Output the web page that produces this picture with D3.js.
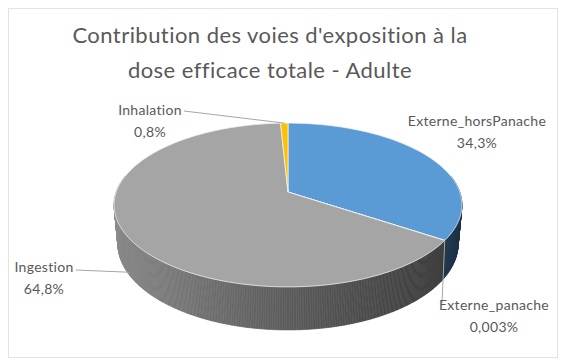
<!DOCTYPE html>
<html>
<head>
<meta charset="utf-8">
<script src="https://cdn.jsdelivr.net/npm/d3@7"></script>
<style>
  html, body { margin: 0; padding: 0; background: #ffffff; }
  svg { display: block; }
  text { font-family: Lato, "Open Sans", sans-serif; fill: #595959; }
</style>
</head>
<body>
<svg id="chart" width="562" height="363"></svg>
<script>
// Contribution of each exposure pathway to the total effective dose (adult)
const categories = ["Externe_horsPanache", "Externe_panache", "Ingestion", "Inhalation"];
const values = [34.3, 0.003, 64.8, 0.8];
const valueLabels = ["34,3%", "0,003%", "64,8%", "0,8%"];
const colors = ["#5B9BD5", "#ED7D31", "#A5A5A5", "#FFC000"];
const titleLines = ["Contribution des voies d'exposition à la", "dose efficace totale - Adulte"];

const W = 562, H = 363;
const svg = d3.select("#chart");

// chart frame
svg.append("rect")
  .attr("x", 8.5).attr("y", 8.5)
  .attr("width", 549).attr("height", 349)
  .attr("fill", "#ffffff")
  .attr("stroke", "#e3e3e3");

// title
svg.append("g").selectAll("text")
  .data(titleLines)
  .join("text")
  .attr("x", 270)
  .attr("y", (d, i) => 43 + i * 35)
  .attr("text-anchor", "middle")
  .style("font-size", "22px")
  .style("letter-spacing", "0.45px")
  .text(d => d);

// 3D pie projection: unit disc lying flat, viewed from above with perspective
const cx = 288, cy = 192;
const focal = 958, dist = 5.58;
const sinA = 0.465, cosA = Math.sqrt(1 - sinA * sinA);
const thick = 0.258;

function proj(angle, t = 0, r = 1) {
  const X = r * Math.sin(angle);
  const Z = -r * Math.cos(angle);
  const Y = -thick * t;
  const depth = dist - (Y * sinA + Z * cosA);
  return [cx + focal * X / depth, cy - focal * (Y * cosA - Z * sinA) / depth];
}

const pie = d3.pie().sort(null).value(d => d.value);
const arcs = pie(categories.map((c, i) => ({ name: c, value: values[i], color: colors[i], label: valueLabels[i] })));

const line = d3.line();

// side walls, shaded by facing direction (light from the left)
const walls = svg.append("g");
arcs.forEach(a => {
  const base = d3.rgb(a.data.color);
  const span = a.endAngle - a.startAngle;
  const n = Math.max(1, Math.ceil(span / (Math.PI / 360)));
  for (let k = 0; k < n; k++) {
    const t0 = a.startAngle + span * k / n;
    const t1 = a.startAngle + span * (k + 1) / n;
    const mid = (t0 + t1) / 2;
    if (Math.cos(mid) > 0.2) continue; // back part, hidden by the top face
    const u = (1 - Math.sin(mid)) / 2;
    const f = 0.33 + 0.52 * Math.pow(u, 1.2);
    const c = d3.rgb(base.r * f, base.g * f, base.b * f).formatHex();
    const pts = [proj(t0, 0), proj(t1, 0), proj(t1, 1), proj(t0, 1)];
    walls.append("path")
      .attr("d", line(pts) + "Z")
      .attr("fill", c)
      .attr("stroke", c)
      .attr("stroke-width", 0.6);
  }
});

// top faces
const tops = svg.append("g");
arcs.forEach(a => {
  const span = a.endAngle - a.startAngle;
  const n = Math.max(2, Math.ceil(span / (Math.PI / 360)));
  const pts = [proj(0, 0, 0)];
  for (let k = 0; k <= n; k++) pts.push(proj(a.startAngle + span * k / n, 0));
  tops.append("path")
    .attr("d", line(pts) + "Z")
    .attr("fill", a.data.color)
    .attr("stroke", "#eef2f6")
    .attr("stroke-width", 0.8)
    .attr("stroke-linejoin", "round");
});

// data labels with leader lines
const labelLayout = {
  "Externe_horsPanache": { x: 477, y: 126, lead: null },
  "Externe_panache": { x: 494, y: 310, lead: { from: [442, 303], at: "start", t: 0 } },
  "Ingestion": { x: 44, y: 272, lead: { from: [76, 270], at: "mid", t: 0.92 } },
  "Inhalation": { x: 150, y: 115, lead: { from: [184, 111], at: "mid", t: 0 } }
};

const labels = svg.append("g");
arcs.forEach(a => {
  const L = labelLayout[a.data.name];
  if (L.lead) {
    const ang = L.lead.at === "start" ? a.startAngle : (a.startAngle + a.endAngle) / 2;
    const p = proj(ang, L.lead.t);
    labels.append("path")
      .attr("d", line([L.lead.from, p]))
      .attr("fill", "none")
      .attr("stroke", "#a6a6a6")
      .attr("stroke-width", 1);
  }
  const tx = labels.append("text")
    .attr("x", L.x).attr("y", L.y)
    .attr("text-anchor", "middle")
    .style("font-size", "14px")
    .style("letter-spacing", "0.3px");
  tx.append("tspan").attr("x", L.x).text(a.data.name);
  tx.append("tspan").attr("x", L.x).attr("dy", 22).text(a.data.label);
});
</script>
</body>
</html>
